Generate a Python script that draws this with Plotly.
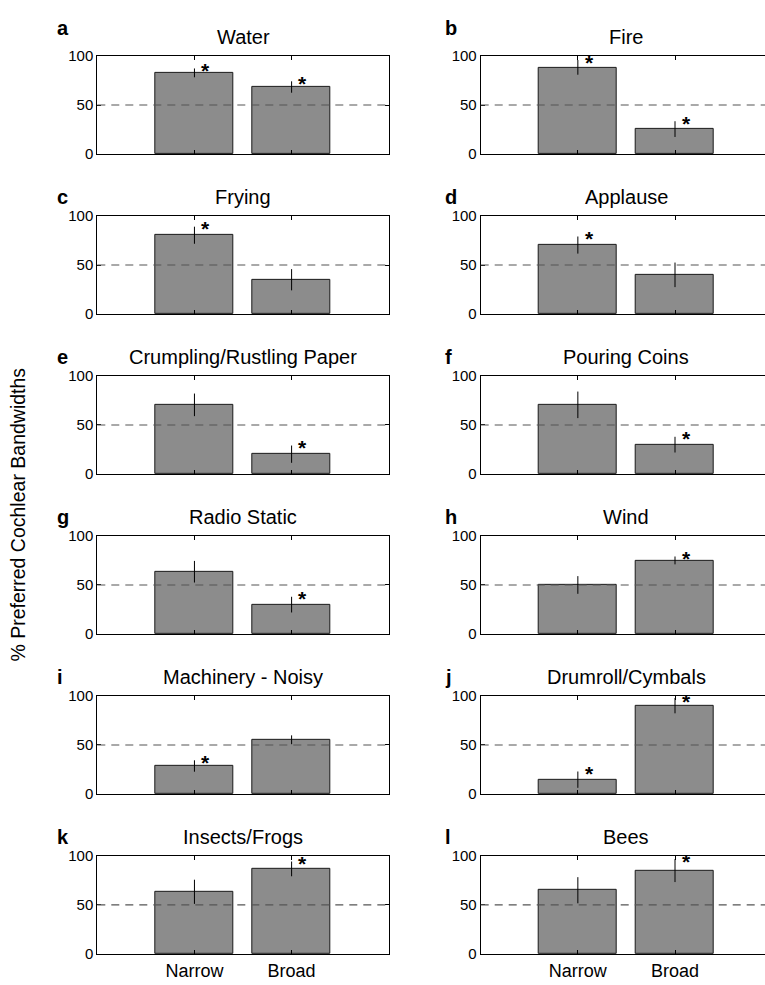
import plotly.graph_objects as go
from plotly.subplots import make_subplots

# ---- data ----
panel_letters = ["a", "b", "c", "d", "e", "f", "g", "h", "i", "j", "k", "l"]
panel_titles = ["Water", "Fire", "Frying", "Applause", "Crumpling/Rustling Paper",
                "Pouring Coins", "Radio Static", "Wind", "Machinery - Noisy",
                "Drumroll/Cymbals", "Insects/Frogs", "Bees"]
categories = ["Narrow", "Broad"]
narrow_vals = [82.7, 88.3, 80.3, 70.3, 70.5, 70.5, 63.5, 50.0, 28.6, 14.7, 63.4, 65.0]
broad_vals = [68.3, 25.5, 35.0, 40.0, 20.3, 30.0, 30.0, 75.0, 55.3, 90.0, 86.7, 85.0]
narrow_err = [4.5, 7.5, 8.7, 8.7, 11.5, 13.5, 11.0, 9.0, 5.8, 8.3, 12.3, 13.3]
broad_err = [5.8, 8.0, 10.8, 12.5, 8.8, 8.0, 8.0, 4.0, 4.5, 7.8, 7.5, 11.7]
narrow_sig = [True, True, True, True, False, False, False, False, True, True, False, False]
broad_sig = [True, True, False, False, True, True, True, True, False, True, True, True]
y_ticks = [0, 50, 100]
y_label = "% Preferred Cochlear Bandwidths"

# ---- layout geometry (pixels) ----
W, H = 765, 985
FONT = "Liberation Sans, Arial, Helvetica, sans-serif"
unit_px = 97.15
col_left_px = [97.3, 480.7]
row_top_px = [47.7 + 162.8 * r for r in range(6)]
axis_h_px = 100.0

fig = make_subplots(rows=6, cols=2)

for i in range(12):
    r, c = i // 2, i % 2
    row, col = r + 1, c + 1
    x0 = col_left_px[c]
    x1 = min(x0 + 3 * unit_px, W)
    xmax = (x1 - x0) / unit_px
    top = row_top_px[r]
    bot = top + axis_h_px

    fig.add_trace(go.Bar(
        x=[1, 2], y=[narrow_vals[i], broad_vals[i]], width=0.8,
        marker=dict(color="#8c8c8c", line=dict(color="#1a1a1a", width=1)),
        error_y=dict(type="data", array=[narrow_err[i], broad_err[i]],
                     color="black", thickness=1, width=0),
        showlegend=False, hoverinfo="skip"), row=row, col=col)

    fig.add_hline(y=50, line=dict(color="#555555", width=1.2, dash="8px,6px"),
                  row=row, col=col)

    last_row = (r == 5)
    fig.update_xaxes(domain=[x0 / W, x1 / W], range=[0, xmax],
                     tickvals=[1, 2], ticktext=categories,
                     showticklabels=last_row, ticks="inside", ticklen=4,
                     tickcolor="black", showline=True, linecolor="black",
                     linewidth=1, mirror="ticks", showgrid=False, zeroline=False,
                     tickfont=dict(family=FONT, size=18, color="black"),
                     row=row, col=col)
    fig.update_yaxes(domain=[1 - bot / H, 1 - top / H], range=[0, 100],
                     tickvals=y_ticks, ticks="inside", ticklen=4,
                     tickcolor="black", showline=True, linecolor="black",
                     linewidth=1, mirror=("ticks" if c == 0 else False),
                     showgrid=False, zeroline=False,
                     tickfont=dict(family=FONT, size=15, color="black"),
                     row=row, col=col)

    # title centred on the full (unclipped) axis
    cx = (x0 + 1.5 * unit_px) / W
    fig.add_annotation(text=panel_titles[i], xref="paper", yref="paper",
                       x=cx, y=1 - top / H, xanchor="center", yanchor="bottom",
                       yshift=6, showarrow=False,
                       font=dict(family=FONT, size=20, color="black"))
    # panel letter
    lx = (55 if c == 0 else 442.7) / W
    lshift = 15 if r == 0 else 6
    fig.add_annotation(text="<b>%s</b>" % panel_letters[i], xref="paper", yref="paper",
                       x=lx, y=1 - top / H, xanchor="left", yanchor="bottom",
                       yshift=lshift, showarrow=False,
                       font=dict(family=FONT, size=20, color="black"))

    # significance asterisks
    xr = "x" if i == 0 else "x%d" % (i + 1)
    yr = "y" if i == 0 else "y%d" % (i + 1)
    for xi, val, err, sig in [(1, narrow_vals[i], narrow_err[i], narrow_sig[i]),
                              (2, broad_vals[i], broad_err[i], broad_sig[i])]:
        if sig:
            fig.add_annotation(text="<b>*</b>", xref=xr, yref=yr, x=xi + 0.05,
                               y=min(val + err, 96), xanchor="left",
                               yanchor="middle", yshift=-2, showarrow=False,
                               font=dict(family=FONT, size=21, color="black"))

# y axis label
fig.add_annotation(text=y_label, xref="paper", yref="paper",
                   x=18.5 / W, y=1 - 515 / H, textangle=-90,
                   xanchor="center", yanchor="middle", showarrow=False,
                   font=dict(family=FONT, size=19.5, color="black"))

fig.update_layout(width=W, height=H, margin=dict(l=0, r=0, t=0, b=0, pad=0),
                  paper_bgcolor="white", plot_bgcolor="white",
                  bargap=0, font=dict(family=FONT, color="black"))

fig.write_html("out.html")
